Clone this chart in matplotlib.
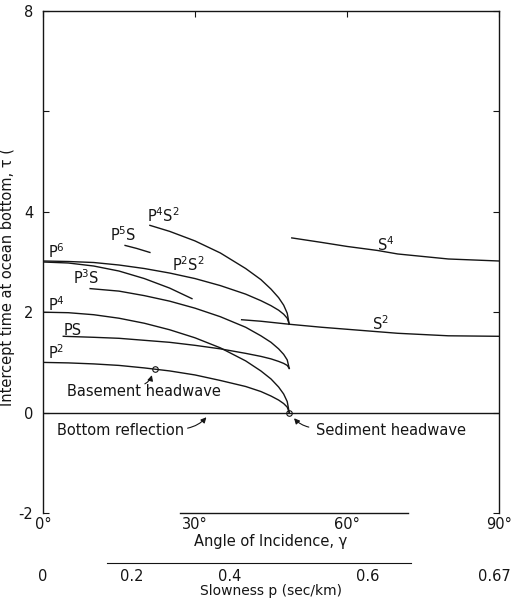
import numpy as np
import matplotlib.pyplot as plt
import matplotlib.transforms as mtransforms

# values (angle in degrees, tau in sec)
p2_ang = [0, 5, 10, 15, 20, 25, 30, 35, 40, 43, 45, 46.5, 47.5, 48.2, 48.6]
p2_tau = [1.00, 0.99, 0.97, 0.94, 0.89, 0.83, 0.75, 0.64, 0.52, 0.42, 0.33, 0.25, 0.18, 0.11, 0.0]
p4_tau = [2.00, 1.99, 1.95, 1.88, 1.78, 1.65, 1.49, 1.29, 1.03, 0.83, 0.67, 0.51, 0.37, 0.22, 0.0]
p6_ang = [0, 5, 10, 15, 20, 25, 29.4]
p6_tau = [3.00, 2.98, 2.92, 2.82, 2.67, 2.48, 2.27]
ps_ang = [4, 10, 15, 20, 25, 30, 35, 40, 43, 45, 46.5, 47.5, 48.2, 48.6]
ps_tau = [1.52, 1.50, 1.48, 1.44, 1.40, 1.34, 1.27, 1.18, 1.12, 1.07, 1.02, 0.98, 0.94, 0.88]
p3s_ang = [9.3, 15, 20, 25, 30, 35, 40, 43, 45, 46.5, 47.5, 48.2, 48.6]
p3s_tau = [2.47, 2.42, 2.33, 2.22, 2.08, 1.91, 1.70, 1.53, 1.40, 1.27, 1.16, 1.05, 0.88]
p5s_ang = [16.2, 18.5, 21.1]
p5s_tau = [3.33, 3.27, 3.19]
p2s2_ang = p2_ang
p2s2_tau = [3.02, 3.01, 2.99, 2.94, 2.87, 2.78, 2.67, 2.53, 2.36, 2.23, 2.13, 2.04, 1.96, 1.88, 1.76]
p4s2_ang = [21.1, 25, 30, 35, 40, 43, 45, 46.5, 47.5, 48.2, 48.6]
p4s2_tau = [3.73, 3.61, 3.42, 3.18, 2.87, 2.65, 2.46, 2.29, 2.14, 1.98, 1.76]
s2_ang = [39.2, 43, 48.6, 55, 60, 65, 70, 80, 90]
s2_tau = [1.85, 1.82, 1.76, 1.70, 1.66, 1.62, 1.58, 1.53, 1.52]
s4_ang = [49.1, 55, 60, 66, 70, 80, 90]
s4_tau = [3.48, 3.39, 3.31, 3.23, 3.16, 3.06, 3.02]
refl_ang = [0, 90]
refl_tau = [0, 0]

basement_pt = (22.1, 0.86)
sediment_pt = (48.6, 0.0)

angle_ticks = [0, 30, 60, 90]
angle_labels = ['0°', '30°', '60°', '90°']
tau_ticks = [8, 6, 4, 2, 0, -2]
tau_labels = ['8', '', '4', '2', '0', '-2']
slow_ticks = [0, 0.2, 0.4, 0.6, 0.67]
slow_labels = ['0', '0.2', '0.4', '0.6', '0.67']

ink = '#151515'
fs = 10.5

fig = plt.figure(figsize=(5.12, 6.03), dpi=100)
ax = fig.add_axes([43/512, 90/603, 456/512, 502/603])

curves = [(p2_ang, p2_tau), (p2_ang, p4_tau), (p6_ang, p6_tau), (ps_ang, ps_tau),
          (p3s_ang, p3s_tau), (p5s_ang, p5s_tau), (p2s2_ang, p2s2_tau),
          (p4s2_ang, p4s2_tau), (s2_ang, s2_tau), (s4_ang, s4_tau), (refl_ang, refl_tau)]
for a, t in curves:
    ax.plot(a, t, color=ink, lw=1.0)

ax.plot(*basement_pt, 'o', ms=4, mfc='none', mec=ink, mew=0.8)
ax.plot(*sediment_pt, 'o', ms=4, mfc='none', mec=ink, mew=0.8)

ax.set_xlim(0, 90)
ax.set_ylim(-2, 8)

# curve labels
lab = dict(fontsize=fs, color=ink)
ax.text(1.0, 3.2, 'P$^6$', va='center', **lab)
ax.text(1.0, 2.16, 'P$^4$', va='center', **lab)
ax.text(4.0, 1.64, 'PS', va='center', **lab)
ax.text(1.0, 1.2, 'P$^2$', va='center', **lab)
ax.text(6.0, 2.68, 'P$^3$S', va='center', **lab)
ax.text(13.2, 3.54, 'P$^5$S', va='center', **lab)
ax.text(20.5, 3.92, 'P$^4$S$^2$', va='center', **lab)
ax.text(25.5, 2.94, 'P$^2$S$^2$', va='center', **lab)
ax.text(66.0, 3.34, 'S$^4$', va='center', **lab)
ax.text(65.0, 1.78, 'S$^2$', va='center', **lab)

arrow = dict(arrowstyle='-|>', color=ink, lw=0.8, mutation_scale=8)
ax.text(4.7, 0.42, 'Basement headwave', va='center', fontsize=fs, color=ink)
ax.annotate('', xy=(21.6, 0.80), xytext=(19.6, 0.55),
            arrowprops=dict(connectionstyle='arc3,rad=0.3', **arrow))
ax.text(2.8, -0.36, 'Bottom reflection', va='center', fontsize=fs, color=ink)
ax.annotate('', xy=(32.6, -0.05), xytext=(28.0, -0.32),
            arrowprops=dict(connectionstyle='arc3,rad=0.2', **arrow))
ax.text(53.8, -0.36, 'Sediment headwave', va='center', fontsize=fs, color=ink)
ax.annotate('', xy=(49.2, -0.07), xytext=(53.0, -0.30),
            arrowprops=dict(connectionstyle='arc3,rad=-0.2', **arrow))

# axes styling
for s in ax.spines.values():
    s.set_color(ink)
    s.set_linewidth(1.0)
ax.spines['bottom'].set_bounds(27, 72)

ax.set_xticks(angle_ticks)
ax.set_xticklabels(angle_labels, fontsize=fs)
ax.tick_params(axis='x', which='both', bottom=False, top=True, direction='in',
               length=4, pad=3, colors=ink)
ax.set_yticks(tau_ticks)
ax.set_yticklabels(tau_labels, fontsize=fs)
ax.tick_params(axis='y', which='both', left=True, right=True, direction='in',
               length=4, pad=7, colors=ink)
ax.set_xlabel('Angle of Incidence, γ', fontsize=fs, color=ink, labelpad=1)

fig.text(0.014, 0.54, 'Intercept time at ocean bottom, τ (', rotation=90,
         ha='center', va='center', fontsize=fs, color=ink)


def deg2p(d):
    return np.sin(np.radians(d)) / 1.5


def p2deg(p):
    return np.degrees(np.arcsin(np.clip(1.5 * np.asarray(p, dtype=float), -1, 1)))


sec = ax.secondary_xaxis(-50/502, functions=(deg2p, p2deg))
sec.set_xticks(slow_ticks)
sec.set_xticklabels(slow_labels, fontsize=fs)
sec.tick_params(length=0, pad=4, colors=ink)
sec.spines['bottom'].set_bounds(0.145, 0.636)
sec.spines['bottom'].set_color(ink)
sec.set_xlabel('Slowness p (sec/km)', fontsize=fs - 0.5, color=ink, labelpad=0)

# nudge the last slowness label so it stays inside the figure
last = sec.get_xticklabels()[-1]
last.set_transform(last.get_transform() +
                   mtransforms.ScaledTranslation(-5/100, 0, fig.dpi_scale_trans))

fig.savefig('out.png', dpi=100)
